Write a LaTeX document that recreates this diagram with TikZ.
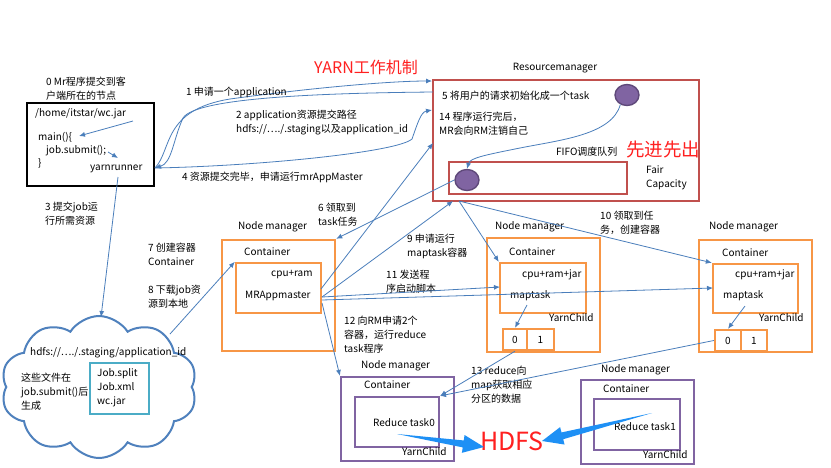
\documentclass[tikz,border=0pt]{standalone}
\usepackage{fontspec}
\newfontfamily\cjk{Noto Sans CJK SC}
\usetikzlibrary{shapes.symbols,shapes.geometric,arrows.meta,calc}
\definecolor{conn}{HTML}{4A7EBB}
\definecolor{rmred}{HTML}{C0504D}
\definecolor{nmorange}{HTML}{F79646}
\definecolor{nmpurple}{HTML}{8064A2}
\definecolor{circfill}{HTML}{8064A2}
\definecolor{circline}{HTML}{5F497A}
\definecolor{teal}{HTML}{4BACC6}
\definecolor{cloudblue}{HTML}{4F81BD}
\definecolor{hdfsblue}{HTML}{1E90F5}
\definecolor{titlered}{HTML}{FF2020}
\begin{document}
\begin{tikzpicture}[x=1pt,y=-1pt,
  every node/.style={font=\cjk\fontsize{10}{14}\selectfont, inner sep=0pt, align=left},
  txt/.style={anchor=west},
  arr/.style={draw=conn, line width=0.8pt, -{Latex[length=6pt,width=5pt]}},
  blackbox/.style={draw=black, line width=2.6pt},
  redbox/.style={draw=rmred, line width=2.4pt},
  orangebox/.style={draw=nmorange, line width=2.4pt},
  purplebox/.style={draw=nmpurple, line width=2.2pt},
  tealbox/.style={draw=teal, line width=2pt},
  dot/.style={ellipse, fill=circfill, draw=circline, line width=1.4pt, minimum width=24pt, minimum height=21pt},
  bigred/.style={text=titlered}
]
\useasboundingbox (0,0) rectangle (831,467);
\fill[white] (0,0) rectangle (831,467);

% ---------------- client ----------------
\node[blackbox, minimum width=127pt, minimum height=83pt] (client) at (90.5,144.5) {};
\node[txt] (t0) at (46,89) {0 Mr程序提交到客\\户端所在的节点};
\node[txt] (home) at (35,114) {/home/itstar/wc.jar};
\node[txt] (main) at (38,137) {main()\{};
\node[txt] (jobs) at (46,151) {job.submit();};
\node[txt] (brace) at (38,163) {\}};
\node[txt] (yarn) at (90,169) {yarnrunner};
\coordinate (homeE) at (133,121);
\coordinate (mainE) at (79,136);
\coordinate (jobE) at (108,152);
\coordinate (yarnN) at (118,158);
\draw[arr] (homeE) -- (mainE);
\draw[arr] (jobE) -- (yarnN);

% ---------------- title ----------------
\node[anchor=west, bigred, font=\cjk\fontsize{16}{18}\selectfont] (title) at (314,67) {YARN工作机制};

% ---------------- resource manager ----------------
\node (rmlabel) at (555,68) {Resourcemanager};
\node[redbox, minimum width=266pt, minimum height=121pt] (rm) at (566,140.5) {};
\node[redbox, minimum width=178pt, minimum height=32pt] (rmq) at (538,178) {};
\node[dot] (c1) at (627,95) {};
\node[dot] (c2) at (467,180) {};
\node[txt] (t5) at (442,96) {5 将用户的请求初始化成一个task};
\node[txt] (t14) at (439,124) {14 程序运行完后，\\MR会向RM注销自己};
\node[txt] (fifo) at (556,152) {FIFO调度队列};
\node[anchor=west, bigred, font=\cjk\fontsize{18.5}{20}\selectfont] (xjxc) at (626,150) {先进先出};
\node[txt] (fair) at (646,178) {Fair\\Capacity};
\draw[arr] (c1.235) .. controls (612,135) and (560,140) .. (520,148) .. controls (485,155) and (470,158) .. (c2.north);

% ---------------- client <-> RM ----------------
\coordinate (cA) at (155,168);
\coordinate (rmA) at (432,81);
\coordinate (rmB) at (433,92);
\coordinate (rmC) at (432,110);
\draw[arr] (cA) .. controls (172,150) and (162,110) .. (230,99) .. controls (310,88) and (390,81) .. (rmA);
\draw[arr] (rmB) .. controls (330,93) and (196,97) .. (183,118) .. controls (173,140) and (172,163) .. (cA);
\draw[arr] (cA) .. controls (260,166) and (398,152) .. (412,139) .. controls (418,122) and (421,112) .. (rmC);
\node[txt] (t1) at (186,92) {1 申请一个application};
\node[txt] (t2) at (236,122) {2 application资源提交路径\\hdfs://…./.staging以及application\_id};
\node[txt] (t4) at (182,177) {4 资源提交完毕，申请运行mrAppMaster};

% ---------------- cloud ----------------
\node[cloud, cloud puffs=10, cloud puff arc=115, aspect=1.35, draw=cloudblue, line width=2pt, minimum width=196pt, minimum height=142pt] (cloud) at (99,387) {};
\node[txt] (hdfsid) at (30,353) {hdfs://…./.staging/application\_id};
\node[txt] (gen) at (21,392) {这些文件在\\job.submit()后\\生成};
\node[tealbox, minimum width=59pt, minimum height=51pt] (files) at (119.5,388.5) {};
\node[txt] (flist) at (97,388) {Job.split\\Job.xml\\wc.jar};
\node[txt] (t3) at (45,214) {3 提交job运\\行所需资源};
\coordinate (yarnS) at (118,177);
\coordinate (cloudT) at (101,317);
\draw[arr] (yarnS) -- (cloudT);

% ---------------- node manager 1 (MRAppmaster) ----------------
\node[txt] (nm1l) at (238,227) {Node manager};
\node[orangebox, minimum width=113pt, minimum height=111pt] (nm1) at (278.5,295.5) {};
\node[orangebox, minimum width=85pt, minimum height=50pt] (nm1in) at (278.5,288) {};
\node[txt] (nm1c) at (244,252) {Container};
\node[txt] (cpu1) at (271,275) {cpu+ram};
\node[txt] (mra) at (245,296) {MRAppmaster};
\node[txt] (t6) at (318,215) {6 领取到\\task任务};
\node[txt] (t7) at (148,254) {7 创建容器\\Container};
\node[txt] (t8) at (148,297) {8 下载job资\\源到本地};
\coordinate (cloudR) at (170,334);
\draw[arr] (cloudR) -- (nm1in.north west);
\draw[arr] (c2.west) -- (nm1.north east);

% ---------------- node manager 2 ----------------
\node[txt] (nm2l) at (495,227) {Node manager};
\node[orangebox, minimum width=113pt, minimum height=114pt] (nm2) at (543.5,295) {};
\node[orangebox, minimum width=86pt, minimum height=50pt] (nm2in) at (543,288) {};
\node[orangebox, minimum width=24pt, minimum height=21pt] (nm2b0) at (515,339.5) {0};
\node[orangebox, minimum width=27pt, minimum height=21pt] (nm2b1) at (540.5,339.5) {1};
\node[txt] (nm2c) at (509,252) {Container};
\node[txt] (cpu2) at (522,275) {cpu+ram+jar};
\node[txt] (mt2l) at (510,296) {maptask};
\node[txt] (yc2) at (549,318) {YarnChild};

% ---------------- node manager 3 ----------------
\node[txt] (nm3l) at (709,227) {Node manager};
\node[orangebox, minimum width=113pt, minimum height=112pt] (nm3) at (755.5,296) {};
\node[orangebox, minimum width=85pt, minimum height=49pt] (nm3in) at (755.5,288.5) {};
\node[orangebox, minimum width=26pt, minimum height=21pt] (nm3b0) at (728,340.5) {0};
\node[orangebox, minimum width=26pt, minimum height=21pt] (nm3b1) at (754,340.5) {1};
\node[txt] (nm3c) at (722,253) {Container};
\node[txt] (cpu3) at (735,275) {cpu+ram+jar};
\node[txt] (mt3l) at (723,296) {maptask};
\node[txt] (yc3) at (759,318) {YarnChild};

% ---------------- reduce node managers ----------------
\node[txt] (rd1l) at (361,366) {Node manager};
\node[purplebox, minimum width=113pt, minimum height=84pt] (rd1) at (397.5,419) {};
\node[purplebox, minimum width=84pt, minimum height=50pt] (rd1in) at (397,422) {};
\node[txt] (rd1c) at (364,385) {Container};
\node[txt] (rt0) at (373,423) {Reduce task0};
\node[txt] (yr1) at (402,452) {YarnChild};

\node[txt] (rd2l) at (601,370) {Node manager};
\node[purplebox, minimum width=113pt, minimum height=84pt] (rd2) at (637.5,422) {};
\node[purplebox, minimum width=86pt, minimum height=51pt] (rd2in) at (637,424.5) {};
\node[txt] (rd2c) at (603,389) {Container};
\node[txt] (rt1) at (614,427) {Reduce task1};
\node[txt] (yr2) at (643,455) {YarnChild};

% ---------------- labels 9..13 ----------------
\node[txt] (t9) at (407,246) {9 申请运行\\maptask容器};
\node[txt] (t11) at (386,282) {11 发送程\\序启动脚本};
\node[txt] (t12) at (344,335) {12 向RM申请2个\\容器，运行reduce\\task程序};
\node[txt] (t10) at (600,223) {10 领取到任\\务，创建容器};
\node[txt] (t13) at (471,385) {13 reduce向\\map获取相应\\分区的数据};

% ---------------- connectors from MRAppmaster / RM ----------------
\coordinate (mraA) at (321,289);
\coordinate (mraB) at (322,297);
\coordinate (mraC) at (322,300);
\coordinate (mraD) at (322,303);
\coordinate (rmE) at (433,143);
\coordinate (rmD) at (453,201);
\coordinate (rmF) at (459,201);
\coordinate (n2a) at (500,287);
\coordinate (n3a) at (713,288);
\draw[arr] (mraA) -- (rmE);
\draw[arr] (mraB) -- (rmD);
\draw[arr] (mraB) -- (n2a);
\draw[arr] (mraC) -- (n3a);
\draw[arr] (mraD) -- (rd1.north west);
\draw[arr] (rmF) -- (nm2in.north west);
\draw[arr] (rmF) -- (nm3in.north west);

\coordinate (mt2) at (527,305);
\coordinate (mt3) at (745,306);
\draw[arr] (mt2) -- (nm2b0.north);
\draw[arr] (mt3) -- (nm3b0.north);
\draw[arr] (nm2b0.south) -- (rd1in.north east);
\draw[arr] (nm3b0.west) -- (rd1in.north east);

% ---------------- HDFS ----------------
\node[bigred, font=\cjk\fontsize{25}{27}\selectfont] (hdfs) at (512,441) {HDFS};
\coordinate (hlT) at (397,434);
\coordinate (hlP) at (484,447);
\coordinate (hrT) at (652,413);
\coordinate (hrP) at (542,441);
\coordinate (hlB) at ($(hlP)!21pt!(hlT)$);
\coordinate (hrB) at ($(hrP)!21pt!(hrT)$);
\fill[hdfsblue] (hlT) -- ($(hlB)!3.5pt!90:(hlP)$) -- ($(hlB)!9pt!90:(hlP)$) -- (hlP) -- ($(hlB)!9pt!-90:(hlP)$) -- ($(hlB)!3.5pt!-90:(hlP)$) -- cycle;
\fill[hdfsblue] (hrT) -- ($(hrB)!3.5pt!90:(hrP)$) -- ($(hrB)!9pt!90:(hrP)$) -- (hrP) -- ($(hrB)!9pt!-90:(hrP)$) -- ($(hrB)!3.5pt!-90:(hrP)$) -- cycle;
\end{tikzpicture}
\end{document}
